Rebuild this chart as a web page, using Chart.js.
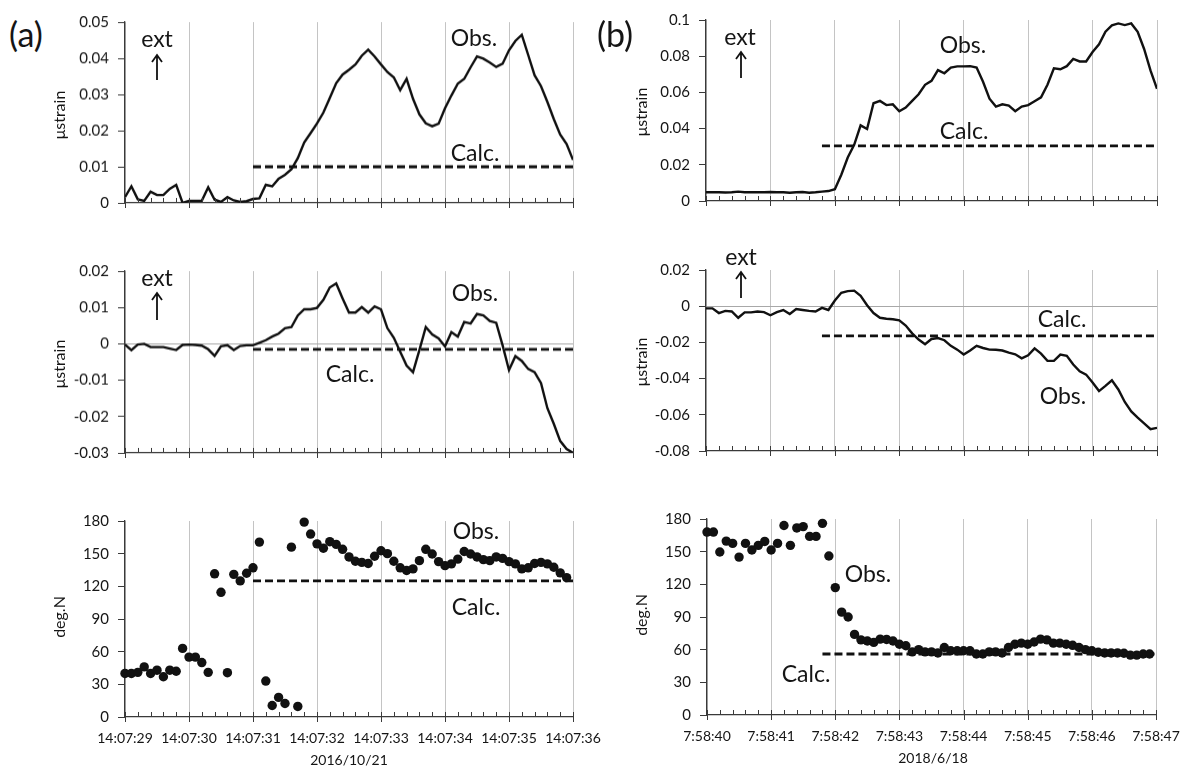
<!DOCTYPE html>
<html><head><meta charset="utf-8">
<script src="https://cdn.jsdelivr.net/npm/chart.js@4.4.1/dist/chart.umd.min.js"></script>
<style>
html,body{margin:0;padding:0;background:#fff;width:1197px;height:769px;overflow:hidden;font-family:Lato,'Open Sans',sans-serif;color:#151515}
canvas{position:absolute}
.t{position:absolute;white-space:nowrap;transform:translate(-50%,-50%);line-height:1}
.rot{transform:translate(-50%,-50%) rotate(-90deg)}
svg{position:absolute;left:0;top:0}
</style></head><body>
<script>
// ---------- DATA ----------
const SAMPLE_DT = 0.1; // seconds between samples
const timeLabelsA = ['14:07:29','14:07:30','14:07:31','14:07:32','14:07:33','14:07:34','14:07:35','14:07:36'];
const timeLabelsB = ['7:58:40','7:58:41','7:58:42','7:58:43','7:58:44','7:58:45','7:58:46','7:58:47'];
const dateA = '2016/10/21';
const dateB = '2018/6/18';

const strainExtA = [0.0016,0.0046,0.001,0.0006,0.0031,0.0022,0.0022,0.0039,0.005,0.0,
 0.0006,0.0006,0.0006,0.0043,0.0009,0.0003,0.0016,0.0007,0.0003,0.0005,
 0.0011,0.0013,0.005,0.0046,0.0067,0.0078,0.0093,0.0124,0.0167,0.0193,
 0.022,0.025,0.029,0.0331,0.0355,0.0368,0.0383,0.0407,0.0424,0.0405,
 0.0383,0.0362,0.0347,0.0312,0.0343,0.0288,0.0245,0.022,0.0212,0.0219,
 0.0262,0.0297,0.033,0.0343,0.0375,0.0405,0.0399,0.0388,0.0376,0.0385,
 0.0422,0.0448,0.0465,0.0409,0.0353,0.0323,0.0279,0.0232,0.0189,0.0163,
 0.0119];
const strainShearA = [-0.0002,-0.0017,-0.0002,0,-0.0009,-0.0009,-0.0009,-0.0013,-0.0017,-0.0003,
 -0.0002,-0.0003,-0.0005,-0.0015,-0.0033,-0.0007,-0.0004,-0.0017,-0.0006,-0.0004,
 -0.0004,0.0003,0.001,0.002,0.0028,0.0043,0.0046,0.0078,0.0095,0.0095,
 0.0099,0.0121,0.0155,0.0166,0.0125,0.0086,0.0086,0.0101,0.0086,0.0103,
 0.0095,0.0043,0.0017,-0.0022,-0.006,-0.0078,-0.0017,0.0046,0.0026,0.0015,
 -0.0007,0.0032,0.002,0.006,0.0056,0.0082,0.0078,0.0063,0.0058,-0.0004,
 -0.0072,-0.0034,-0.0047,-0.0069,-0.0078,-0.0108,-0.0177,-0.022,-0.0267,-0.0289,
 -0.03];
const azimuthA = [40,40,41,46,40,43,37,43,42,63,
 55,55,50,41,131.5,114.5,40.7,131,125,132,
 137,160.6,33,10.6,18,12.4,156,9.7,179,168,
 159,155,161,158.5,154,147,143,142,141,147.6,
 152.7,150,143,137,134.5,136,143.6,154,149.7,142.7,
 139,140.6,145,152,149.7,147,144.5,143.6,147,145.7,
 142.7,140.6,136,137,141,142,140.6,137.5,132.4,128];

const strainExtB = [0.0048,0.0048,0.0048,0.0047,0.0048,0.0052,0.0048,0.0048,0.0048,0.0048,
 0.005,0.0048,0.0048,0.0046,0.0048,0.005,0.0046,0.0048,0.0052,0.0055,
 0.0065,0.0145,0.024,0.031,0.0418,0.0398,0.054,0.0553,0.053,0.0534,
 0.0496,0.0516,0.0553,0.059,0.0642,0.0664,0.0723,0.0706,0.0737,0.0744,
 0.0744,0.0745,0.0737,0.0659,0.0565,0.0522,0.0534,0.0527,0.0496,0.0522,
 0.053,0.0551,0.0573,0.0642,0.0733,0.0728,0.0745,0.0785,0.0771,0.0771,
 0.0823,0.0866,0.0935,0.097,0.0981,0.0972,0.0981,0.0935,0.084,0.072,
 0.062];
const strainShearB = [-0.0012,-0.0012,-0.0038,-0.0026,-0.0029,-0.0064,-0.0034,-0.0034,-0.0029,-0.0033,
 -0.005,-0.0033,-0.0021,-0.0043,-0.0016,-0.0021,-0.0026,-0.0029,-0.0009,-0.0021,
 0.0031,0.0074,0.0083,0.0086,0.0057,0.0005,-0.0038,-0.0064,-0.0069,-0.0072,
 -0.0078,-0.0107,-0.015,-0.0184,-0.021,-0.0181,-0.0176,-0.0188,-0.0219,-0.024,
 -0.0267,-0.0245,-0.0219,-0.0231,-0.024,-0.0241,-0.0245,-0.0257,-0.0266,-0.0288,
 -0.0271,-0.0233,-0.0262,-0.0302,-0.0302,-0.0267,-0.0274,-0.0322,-0.036,-0.0378,
 -0.0422,-0.0469,-0.044,-0.0409,-0.046,-0.0529,-0.0581,-0.0616,-0.0647,-0.0679,
 -0.0672];
const azimuthB = [168,168,149.7,159.7,157.6,145,157.6,151.5,155.8,159.4,
 151.5,157.6,174,155.8,171.8,173,164,164,176,146,
 117,94.5,90,74,69,68,66.7,69.7,69.4,68,
 65,63.6,58,60,58,58,57,62,59,59,
 59,59,56,56,58,58,57,62,65,66,
 65,67,69.7,69,66,66,65,64,62,60,
 59,57.6,57,57,57,56.7,55,55,56,56];

// calculated values: [start time, end time] and [value, value]
const calcTimeA = [2, 7];
const calcExtA = [0.01, 0.01];
const calcShearA = [-0.0015, -0.0015];
const calcAzA = [125, 125];
const calcTimeB = [1.8, 7];
const calcExtB = [0.0305, 0.0305];
const calcShearB = [-0.0164, -0.0164];
const calcAzB = [56, 56];

// ---------- LAYOUT ----------
const AXIS_COLOR = '#3a3a3a';
const GRID_COLOR = '#c4c4c4';
const FONT = 'Lato';
const L = 80, T = 14, R = 44;

function isInt(v){ return Math.abs(v - Math.round(v)) < 1e-6; }
function fmt(v){ return String(Math.round(v*1e6)/1e6); }

const tickMarks = {
  id:'tickMarks',
  afterDraw(chart){
    const xs = chart.scales.x, ca = chart.chartArea, ctx = chart.ctx;
    ctx.save();
    ctx.strokeStyle = AXIS_COLOR; ctx.lineWidth = 1;
    xs.ticks.forEach(t=>{
      const x = Math.round(xs.getPixelForValue(t.value)) + 0.5;
      ctx.beginPath();
      if (isInt(t.value)) { ctx.moveTo(x, ca.bottom - 5); ctx.lineTo(x, ca.bottom + 5); }
      else { ctx.moveTo(x, ca.bottom - 5); ctx.lineTo(x, ca.bottom); }
      ctx.stroke();
    });
    ctx.restore();
  }
};

function panel(o){
  const B = o.xLabels ? 36 : 10;
  const w = (o.r - o.l) + L + R, h = (o.b - o.t) + T + B;
  const c = document.createElement('canvas');
  c.width = w; c.height = h;
  c.style.left = (o.l - L) + 'px'; c.style.top = (o.t - T) + 'px';
  c.style.width = w + 'px'; c.style.height = h + 'px';
  document.body.appendChild(c);
  const obsData = o.obs.map((v,i)=>({x: i*SAMPLE_DT, y: v}));
  const calcData = o.calcT.map((t,i)=>({x: t, y: o.calcV[i]}));
  const obsDs = o.scatter ? {
      type:'scatter', data: obsData, showLine:false, pointRadius:4.7, pointHoverRadius:4.7,
      pointBackgroundColor:'#111', pointBorderWidth:0, borderWidth:0, order:1, clip:false
    } : {
      type:'line', data: obsData, borderColor:'#111', borderWidth:2.4, pointRadius:0,
      tension:0, fill:false, order:1
    };
  new Chart(c, {
    type:'line',
    data:{ datasets:[ obsDs, {
      type:'line', data: calcData, borderColor:'#111', borderWidth:2.8, borderDash:[8,4],
      pointRadius:0, fill:false, order:0 } ] },
    options:{
      responsive:false, animation:false, devicePixelRatio:1,
      layout:{ padding:{ left:0, top:T, right:R, bottom:0 } },
      plugins:{ legend:{display:false}, tooltip:{enabled:false} },
      scales:{
        x:{ type:'linear', min:0, max:7,
          afterFit(s){ s.height = B; },
          ticks:{ stepSize:0.2, autoSkip:false, maxRotation:0, minRotation:0,
            display: !!o.xLabels, padding:13,
            font:{family:FONT, size:14}, color:'#151515',
            callback:(v)=> (o.xLabels && isInt(v)) ? o.xLabels[Math.round(v)] : '' },
          grid:{ drawTicks:false, lineWidth:1,
            color:(ctx)=> (ctx.tick && isInt(ctx.tick.value)) ? GRID_COLOR : 'rgba(0,0,0,0)' },
          border:{ display:true, color:AXIS_COLOR, width:1.3 }
        },
        y:{ type:'linear', min:o.yMin, max:o.yMax,
          afterFit(s){ s.width = L; },
          ticks:{ stepSize:o.yStep, padding:9, font:{family:FONT, size:15}, color:'#151515',
            callback:(v)=>fmt(v) },
          grid:{ drawTicks:true, tickLength:7, tickColor:AXIS_COLOR, lineWidth:1,
            color:(ctx)=> (o.zero && ctx.tick && Math.abs(ctx.tick.value) < 1e-9) ? '#a8a8a8' : 'rgba(0,0,0,0)' },
          border:{ display:true, color:AXIS_COLOR, width:1.3 }
        }
      }
    },
    plugins:[tickMarks]
  });
}

panel({l:125, t:18.3, r:573, b:211, yMin:0, yMax:0.05, yStep:0.01, obs:strainExtA, calcT:calcTimeA, calcV:calcExtA});
panel({l:125, t:267.3, r:573, b:461, yMin:-0.03, yMax:0.02, yStep:0.01, obs:strainShearA, calcT:calcTimeA, calcV:calcShearA, zero:true});
panel({l:125, t:517, r:573, b:717, yMin:0, yMax:180, yStep:30, obs:azimuthA, calcT:calcTimeA, calcV:calcAzA, scatter:true, xLabels:timeLabelsA});
panel({l:706, t:15.7, r:1157, b:209.3, yMin:0, yMax:0.1, yStep:0.02, obs:strainExtB, calcT:calcTimeB, calcV:calcExtB});
panel({l:706, t:266, r:1157, b:459, yMin:-0.08, yMax:0.02, yStep:0.02, obs:strainShearB, calcT:calcTimeB, calcV:calcShearB, zero:true});
panel({l:707, t:514.5, r:1156, b:715, yMin:0, yMax:180, yStep:30, obs:azimuthB, calcT:calcTimeB, calcV:calcAzB, scatter:true, xLabels:timeLabelsB});

// ---------- TEXT ----------
function txt(s, x, y, size, rot){
  const d = document.createElement('div');
  d.className = 't' + (rot ? ' rot' : '');
  d.textContent = s; d.style.left = x + 'px'; d.style.top = y + 'px'; d.style.fontSize = size + 'px';
  document.body.appendChild(d);
}
txt('(a)', 26, 34, 34); txt('(b)', 615, 34, 34);
[['ext',157,38],['Obs.',474,37],['Calc.',475,152],
 ['ext',740,36],['Obs.',963,44],['Calc.',964,130],
 ['ext',157,277],['Obs.',475,292],['Calc.',350,373],
 ['ext',741,256],['Calc.',1062,318],['Obs.',1063,395],
 ['Obs.',476,530],['Calc.',476,606],
 ['Obs.',868,573],['Calc.',806,673]].forEach(a=>txt(a[0],a[1],a[2],23));
txt('μstrain', 59, 115, 16, true); txt('μstrain', 59, 364, 16, true); txt('deg.N', 59, 617, 16, true);
txt('μstrain', 641, 112, 16, true); txt('μstrain', 641, 362, 16, true); txt('deg.N', 641, 615, 16, true);
txt(dateA, 349, 760, 14); txt(dateB, 933, 758, 14);

// arrows
const ns = 'http://www.w3.org/2000/svg';
const svg = document.createElementNS(ns, 'svg');
svg.setAttribute('width', 1197); svg.setAttribute('height', 769);
document.body.appendChild(svg);
[[157,55,80],[157,293,320],[741,52,78],[741,272,298]].forEach(([x,y1,y2])=>{
  const p = document.createElementNS(ns,'path');
  p.setAttribute('d', `M${x} ${y2} L${x} ${y1} M${x-5} ${y1+7} L${x} ${y1} L${x+5} ${y1+7}`);
  p.setAttribute('stroke','#111'); p.setAttribute('stroke-width','1.8'); p.setAttribute('fill','none');
  svg.appendChild(p);
});
</script>
</body></html>
